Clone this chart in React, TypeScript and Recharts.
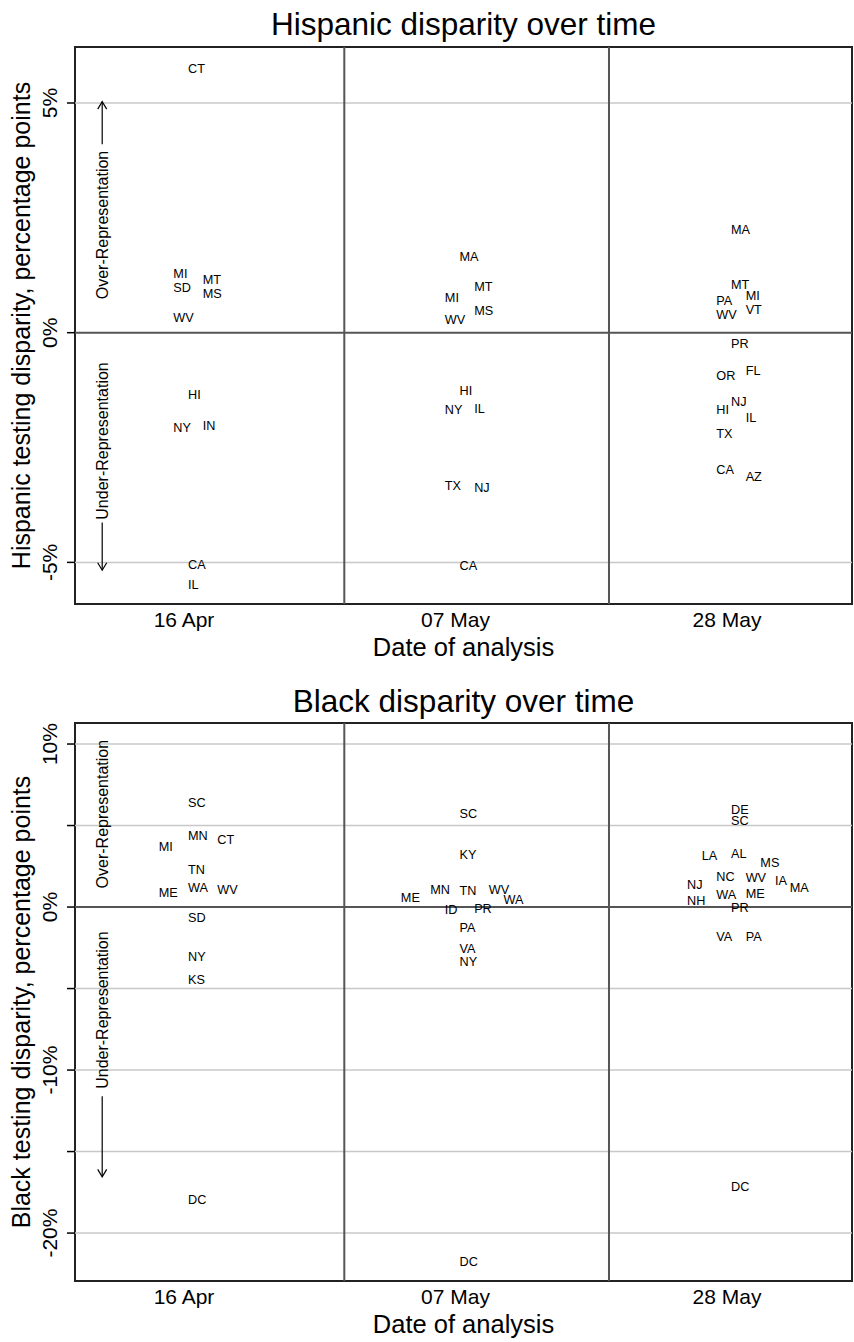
import React from "react";
import {
  ScatterChart,
  Scatter,
  XAxis,
  YAxis,
  ReferenceLine,
  ReferenceArea,
  ReferenceDot,
} from "recharts";

const FONT = "'Liberation Sans', Arial, Helvetica, sans-serif";

// dates of analysis (x categories)
const dates = ["16 Apr", "07 May", "28 May"];

// st = state, v = disparity in percentage points, col = label slot next to the date
type Lab = { st: string; v: number; col: number };

const hispApr16: Lab[] = [
  { st: "CT", v: 5.76, col: 0 },
  { st: "MI", v: 1.29, col: -1 },
  { st: "SD", v: 0.99, col: -1 },
  { st: "MT", v: 1.15, col: 1 },
  { st: "MS", v: 0.86, col: 1 },
  { st: "WV", v: 0.33, col: -1 },
  { st: "HI", v: -1.35, col: 0 },
  { st: "NY", v: -2.06, col: -1 },
  { st: "IN", v: -2.03, col: 1 },
  { st: "CA", v: -5.05, col: 0 },
  { st: "IL", v: -5.48, col: 0 },
];

const hispMay07: Lab[] = [
  { st: "MA", v: 1.66, col: 0 },
  { st: "MT", v: 1.0, col: 1 },
  { st: "MI", v: 0.76, col: -1 },
  { st: "MS", v: 0.49, col: 1 },
  { st: "WV", v: 0.29, col: -1 },
  { st: "HI", v: -1.26, col: 0 },
  { st: "NY", v: -1.67, col: -1 },
  { st: "IL", v: -1.65, col: 1 },
  { st: "TX", v: -3.32, col: -1 },
  { st: "NJ", v: -3.38, col: 1 },
  { st: "CA", v: -5.06, col: 0 },
];

const hispMay28: Lab[] = [
  { st: "MA", v: 2.25, col: 0 },
  { st: "MT", v: 1.04, col: 0 },
  { st: "PA", v: 0.71, col: -1 },
  { st: "MI", v: 0.81, col: 1 },
  { st: "VT", v: 0.51, col: 1 },
  { st: "WV", v: 0.4, col: -1 },
  { st: "PR", v: -0.23, col: 0 },
  { st: "FL", v: -0.83, col: 1 },
  { st: "OR", v: -0.94, col: -1 },
  { st: "NJ", v: -1.5, col: 0 },
  { st: "HI", v: -1.68, col: -1 },
  { st: "IL", v: -1.84, col: 1 },
  { st: "TX", v: -2.19, col: -1 },
  { st: "CA", v: -2.98, col: -1 },
  { st: "AZ", v: -3.14, col: 1 },
];

const blackApr16: Lab[] = [
  { st: "SC", v: 6.42, col: 0 },
  { st: "MN", v: 4.38, col: 0 },
  { st: "CT", v: 4.11, col: 2 },
  { st: "MI", v: 3.7, col: -2 },
  { st: "TN", v: 2.33, col: 0 },
  { st: "WA", v: 1.21, col: 0 },
  { st: "WV", v: 1.09, col: 2 },
  { st: "ME", v: 0.88, col: -2 },
  { st: "SD", v: -0.66, col: 0 },
  { st: "NY", v: -3.01, col: 0 },
  { st: "KS", v: -4.42, col: 0 },
  { st: "DC", v: -17.93, col: 0 },
];

const blackMay07: Lab[] = [
  { st: "SC", v: 5.71, col: 0 },
  { st: "KY", v: 3.25, col: 0 },
  { st: "MN", v: 1.09, col: -2 },
  { st: "TN", v: 1.04, col: 0 },
  { st: "WV", v: 1.09, col: 2 },
  { st: "ME", v: 0.6, col: -4 },
  { st: "WA", v: 0.49, col: 3 },
  { st: "ID", v: -0.18, col: -1 },
  { st: "PR", v: -0.08, col: 1 },
  { st: "PA", v: -1.27, col: 0 },
  { st: "VA", v: -2.54, col: 0 },
  { st: "NY", v: -3.35, col: 0 },
  { st: "DC", v: -21.76, col: 0 },
];

const blackMay28: Lab[] = [
  { st: "DE", v: 6.01, col: 0 },
  { st: "SC", v: 5.28, col: 0 },
  { st: "LA", v: 3.15, col: -2 },
  { st: "AL", v: 3.29, col: 0 },
  { st: "MS", v: 2.72, col: 2 },
  { st: "NC", v: 1.86, col: -1 },
  { st: "WV", v: 1.8, col: 1 },
  { st: "IA", v: 1.61, col: 3 },
  { st: "MA", v: 1.21, col: 4 },
  { st: "NJ", v: 1.39, col: -3 },
  { st: "WA", v: 0.74, col: -1 },
  { st: "ME", v: 0.84, col: 1 },
  { st: "NH", v: 0.37, col: -3 },
  { st: "PR", v: -0.02, col: 0 },
  { st: "VA", v: -1.78, col: -1 },
  { st: "PA", v: -1.82, col: 1 },
  { st: "DC", v: -17.12, col: 0 },
];

const hispTicks = [-5, 0, 5];
const hispLabelled = [-5, 0, 5];
const blackTicks = [-20, -15, -10, -5, 0, 5, 10];
const blackLabelled = [-20, -10, 0, 10];

// layout
const W = 854;
const X_MIN = -0.4162;
const X_MAX = 2.4457;
const COL = 0.054; // width of one label slot in date units
const DIVIDERS = [0.5757, 1.5506];

function buildRows(groups: Lab[][]) {
  const rows: { x: number; y: number; st: string }[] = [];
  groups.forEach((g, d) =>
    g.forEach((l) => rows.push({ x: d + l.col * COL, y: l.v, st: l.st }))
  );
  return rows;
}

const StateLabel = (p: any) => (
  <text
    x={p.cx}
    y={p.cy}
    dy="0.35em"
    fontSize={12.7}
    fontFamily={FONT}
    fill="#000"
  >
    {p.payload.st}
  </text>
);

const RotText = (text: string) => (p: any) => (
  <text
    x={p.cx}
    y={p.cy}
    transform={`rotate(-90 ${p.cx} ${p.cy})`}
    textAnchor="middle"
    dy="0.35em"
    fontSize={16}
    fontFamily={FONT}
    fill="#000"
  >
    {text}
  </text>
);

const HeadUp = (p: any) => (
  <polyline
    points={`${p.cx - 4.5},${p.cy + 7.5} ${p.cx},${p.cy} ${p.cx + 4.5},${p.cy + 7.5}`}
    fill="none"
    stroke="#000"
    strokeWidth={1.2}
  />
);

const HeadDown = (p: any) => (
  <polyline
    points={`${p.cx - 4.5},${p.cy - 7.5} ${p.cx},${p.cy} ${p.cx + 4.5},${p.cy - 7.5}`}
    fill="none"
    stroke="#000"
    strokeWidth={1.2}
  />
);

type Arrow = { from: number; to: number; up: boolean };

type ChartProps = {
  height: number;
  top: number;
  xAxisH: number;
  rows: { x: number; y: number; st: string }[];
  yDomain: [number, number];
  ticks: number[];
  labelled: number[];
  yTitle: string;
  overY: number;
  underY: number;
  arrows: Arrow[];
};

function DisparityChart(props: ChartProps) {
  const { height, top, xAxisH, rows, yDomain, ticks, labelled } = props;
  const ax = -0.316;

  const YTick = (p: any) =>
    labelled.includes(p.payload.value) ? (
      <text
        x={p.x}
        y={p.y}
        transform={`rotate(-90 ${p.x} ${p.y})`}
        textAnchor="middle"
        fontSize={21}
        fontFamily={FONT}
        fill="#000"
      >
        {p.payload.value}%
      </text>
    ) : (
      <g />
    );

  const XTick = (p: any) => (
    <text
      x={p.x - 4}
      y={p.y + 22.5}
      textAnchor="middle"
      fontSize={21}
      fontFamily={FONT}
      fill="#000"
    >
      {dates[p.payload.value]}
    </text>
  );

  return (
    <ScatterChart
      width={W}
      height={height}
      margin={{ top, right: 2, bottom: 0, left: 0 }}
    >
      <XAxis
        type="number"
        dataKey="x"
        domain={[X_MIN, X_MAX]}
        allowDataOverflow
        ticks={[0, 1, 2]}
        interval={0}
        tick={XTick}
        tickLine={false}
        tickSize={0}
        tickMargin={0}
        axisLine={false}
        height={xAxisH}
        label={{
          content: (lp: any) => {
            const vb = lp.viewBox;
            return (
              <text
                x={vb.x + vb.width / 2}
                y={vb.y + 52}
                textAnchor="middle"
                fontSize={25.5}
                fontFamily={FONT}
                fill="#000"
              >
                Date of analysis
              </text>
            );
          },
        }}
      />
      <YAxis
        type="number"
        dataKey="y"
        domain={yDomain}
        allowDataOverflow
        ticks={ticks}
        interval={0}
        tick={YTick}
        tickSize={8}
        tickMargin={10}
        tickLine={{ stroke: "#000", strokeWidth: 1.5 }}
        axisLine={false}
        width={75}
        label={{
          content: (lp: any) => {
            const vb = lp.viewBox;
            const cy = vb.y + vb.height / 2;
            return (
              <text
                x={30}
                y={cy}
                transform={`rotate(-90 30 ${cy})`}
                textAnchor="middle"
                fontSize={25}
                fontFamily={FONT}
                fill="#000"
              >
                {props.yTitle}
              </text>
            );
          },
        }}
      />

      {ticks
        .filter((t) => t !== 0)
        .map((t) => (
          <ReferenceLine key={t} y={t} stroke="#c8c8c8" strokeWidth={1.5} />
        ))}
      <ReferenceLine y={0} stroke="#555" strokeWidth={2} />
      {DIVIDERS.map((d) => (
        <ReferenceLine key={d} x={d} stroke="#555" strokeWidth={2} />
      ))}

      {props.arrows.map((a, i) => (
        <ReferenceLine
          key={"s" + i}
          segment={[
            { x: ax, y: a.from },
            { x: ax, y: a.to },
          ]}
          stroke="#000"
          strokeWidth={1.2}
        />
      ))}
      {props.arrows.map((a, i) => (
        <ReferenceDot
          key={"h" + i}
          x={ax}
          y={a.to}
          r={1}
          shape={a.up ? HeadUp : HeadDown}
        />
      ))}
      <ReferenceDot x={ax} y={props.overY} r={1} shape={RotText("Over-Representation")} />
      <ReferenceDot x={ax} y={props.underY} r={1} shape={RotText("Under-Representation")} />

      <Scatter data={rows} shape={StateLabel} isAnimationActive={false} />

      <ReferenceArea
        x1={X_MIN}
        x2={X_MAX}
        y1={yDomain[0]}
        y2={yDomain[1]}
        fill="none"
        fillOpacity={0}
        stroke="#222"
        strokeWidth={2}
        ifOverflow="visible"
      />
    </ScatterChart>
  );
}

export default function App() {
  const hispRows = buildRows([hispApr16, hispMay07, hispMay28]);
  const blackRows = buildRows([blackApr16, blackMay07, blackMay28]);

  return (
    <div
      style={{
        position: "absolute",
        left: 0,
        top: 0,
        width: W,
        height: 1342,
        background: "#fff",
        fontFamily: FONT,
      }}
    >
      <DisparityChart
        height={672}
        top={47}
        xAxisH={68}
        rows={hispRows}
        yDomain={[-5.906, 6.219]}
        ticks={hispTicks}
        labelled={hispLabelled}
        yTitle="Hispanic testing disparity, percentage points"
        overY={2.344}
        underY={-2.357}
        arrows={[
          { from: 4.1, to: 5.03, up: true },
          { from: -4.13, to: -5.17, up: false },
        ]}
      />
      <DisparityChart
        height={670}
        top={51}
        xAxisH={61}
        rows={blackRows}
        yDomain={[-22.94, 11.29]}
        ticks={blackTicks}
        labelled={blackLabelled}
        yTitle="Black testing disparity, percentage points"
        overY={5.7}
        underY={-6.32}
        arrows={[{ from: -11.6, to: -16.55, up: false }]}
      />
      <svg
        width={W}
        height={1342}
        style={{ position: "absolute", left: 0, top: 0, pointerEvents: "none" }}
      >
        <text x={463.5} y={35} textAnchor="middle" fontSize={31.5} fontFamily={FONT} fill="#000">
          Hispanic disparity over time
        </text>
        <text x={463.5} y={711.7} textAnchor="middle" fontSize={31.5} fontFamily={FONT} fill="#000">
          Black disparity over time
        </text>
      </svg>
    </div>
  );
}
